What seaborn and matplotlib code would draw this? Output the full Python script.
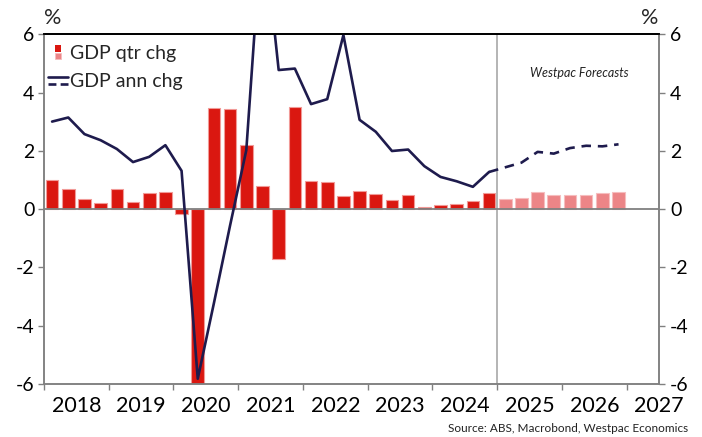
import matplotlib
matplotlib.use("Agg")
import matplotlib.pyplot as plt
import numpy as np
import pandas as pd
import seaborn as sns
from matplotlib.legend_handler import HandlerBase
from matplotlib.patches import Rectangle
from matplotlib.lines import Line2D

# ---- data -------------------------------------------------------------
quarters = pd.period_range("2018Q1", "2026Q4", freq="Q")
n_actual = 28  # 2018Q1 .. 2024Q4 are published, the rest are forecasts

qtr_chg = [1.02, 0.71, 0.35, 0.22, 0.70, 0.26, 0.55, 0.60,
           -0.17, -6.8, 3.48, 3.43, 2.19, 0.79, -1.72, 3.52,
           0.97, 0.95, 0.46, 0.64, 0.52, 0.31, 0.50, 0.07,
           0.14, 0.17, 0.30, 0.56,
           0.36, 0.39, 0.58, 0.50, 0.48, 0.48, 0.56, 0.58]

ann_chg = [3.01, 3.15, 2.58, 2.37, 2.07, 1.62, 1.80, 2.20,
           1.32, -5.82, -3.22, -0.55, 2.03, 10.0, 4.78, 4.83,
           3.61, 3.78, 5.98, 3.07, 2.66, 2.00, 2.05, 1.48,
           1.11, 0.96, 0.77, 1.28,
           1.44, 1.60, 1.97, 1.91, 2.10, 2.18, 2.16, 2.23]

years = list(range(2018, 2028))
y_ticks = [-6, -4, -2, 0, 2, 4, 6]
y_labels = ["-6", "-4", "-2", "0", "2", "4", "6"]

# ---- styling ----------------------------------------------------------
sns.set_theme(style="ticks")
plt.rcParams["font.family"] = ["Lato", "DejaVu Sans"]

RED = "#DA1710"
RED_EDGE = "#F19A97"
PINK = "#EC8587"
PINK_EDGE = "#F6BDBE"
NAVY = "#1E1B4D"
SPINE = "#808080"

xpos = quarters.year + (quarters.quarter - 0.5) / 4.0
df = pd.DataFrame({"x": xpos, "qtr": qtr_chg, "ann": ann_chg})
act = df.iloc[:n_actual]
fct = df.iloc[n_actual:]
fct_line = df.iloc[n_actual - 1:]

fig = plt.figure(figsize=(7.02, 4.37), dpi=100)
ax = fig.add_axes([44 / 702, 1 - 384 / 437, (659 - 44) / 702, (384 - 34.5) / 437])

# quarterly change bars
sns.barplot(data=act, x="x", y="qtr", native_scale=True, width=0.78,
            color=RED, saturation=1, edgecolor=RED_EDGE, linewidth=0.8,
            errorbar=None, ax=ax)
sns.barplot(data=fct, x="x", y="qtr", native_scale=True, width=0.78,
            color=PINK, saturation=1, edgecolor=PINK_EDGE, linewidth=0.8,
            errorbar=None, ax=ax)

# forecast divider and zero line
ax.axvline(2025.0, color="#AFAFAF", lw=1.3, zorder=1)
ax.axhline(0, color=SPINE, lw=1.3, zorder=3)

# annual change line
sns.lineplot(data=act, x="x", y="ann", color=NAVY, lw=1.9, ax=ax, zorder=4)
sns.lineplot(data=fct_line, x="x", y="ann", color=NAVY, lw=1.9, ax=ax, zorder=4,
             linestyle=(0, (3.6, 2.6)))

ax.set_xlim(2018, 2027.5)
ax.set_ylim(-6, 6)
ax.set_xlabel("")
ax.set_ylabel("")

ax.set_xticks(years)
ax.set_xticklabels([""] * len(years))
ax.set_xticks([y + 0.5 for y in years], minor=True)
ax.set_xticklabels([str(y) for y in years], minor=True, fontsize=15.5)
ax.tick_params(axis="x", which="major", length=4, width=1, color=SPINE, direction="out")
ax.tick_params(axis="x", which="minor", length=0, pad=9, colors="black")

ax.set_yticks(y_ticks)
ax.set_yticklabels(y_labels, fontsize=14)
ax.tick_params(axis="y", length=4, width=1, color=SPINE, pad=3, labelcolor="black")

for side in ("left", "right", "bottom"):
    ax.spines[side].set_color(SPINE)
    ax.spines[side].set_linewidth(1.1)
ax.spines["top"].set_visible(True)
ax.spines["top"].set_color("black")
ax.spines["top"].set_linewidth(1.3)
ax.spines["right"].set_visible(True)

ax2 = ax.twinx()
ax2.set_ylim(-6, 6)
ax2.set_yticks(y_ticks)
ax2.set_yticklabels(y_labels, fontsize=14)
ax2.tick_params(axis="y", length=4, width=1, color=SPINE, pad=4, labelcolor="black")
for side in ("left", "right", "bottom"):
    ax2.spines[side].set_color(SPINE)
    ax2.spines[side].set_linewidth(1.1)
ax2.spines["top"].set_color("black")
ax2.spines["top"].set_linewidth(1.3)


# ---- legend keys --------------------------------------------------------
class BarKey(HandlerBase):
    def create_artists(self, legend, orig_handle, xdescent, ydescent,
                       width, height, fontsize, trans):
        s = height * 0.46
        x0 = -xdescent + width / 2 - s * 0.45
        y0 = -ydescent
        top = Rectangle((x0, y0 + height - s), s * 0.9, s, facecolor=RED,
                        edgecolor="none", transform=trans)
        bot = Rectangle((x0, y0), s * 0.9, s, facecolor=PINK,
                        edgecolor=PINK_EDGE, lw=0.6, transform=trans)
        return [top, bot]


class LineKey(HandlerBase):
    def create_artists(self, legend, orig_handle, xdescent, ydescent,
                       width, height, fontsize, trans):
        x0 = -xdescent
        y0 = -ydescent
        solid = Line2D([x0, x0 + width], [y0 + height * 0.72] * 2, color=NAVY,
                       lw=1.9, transform=trans)
        dashed = Line2D([x0, x0 + width], [y0 + height * 0.22] * 2, color=NAVY,
                        lw=1.9, linestyle=(0, (3.0, 1.6)), transform=trans)
        return [solid, dashed]


bar_handle = Rectangle((0, 0), 1, 1)
line_handle = Line2D([], [])
ax2.legend([bar_handle, line_handle], ["GDP qtr chg", "GDP ann chg"],
           handler_map={Rectangle: BarKey(), Line2D: LineKey()},
           loc="upper left", bbox_to_anchor=(48 / 702, 1 - 45 / 437),
           bbox_transform=fig.transFigure, frameon=False, fontsize=14,
           handlelength=1.05, handleheight=0.75, handletextpad=0.1,
           labelspacing=0.55, borderpad=0, borderaxespad=0)

# ---- annotations ---------------------------------------------------------
ax.text(2026.27, 4.67, "Westpac Forecasts", fontsize=9, style="italic",
        ha="center", va="center", color="#222222")
fig.text(53 / 702, 1 - 18 / 437, "%", fontsize=15.5, ha="center", va="center")
fig.text(650 / 702, 1 - 18 / 437, "%", fontsize=15.5, ha="center", va="center")
fig.text(688 / 702, 1 - 428 / 437, "Source: ABS, Macrobond, Westpac Economics",
         fontsize=8.5, ha="right", va="center", color="#222222")

fig.savefig("out.png", dpi=100)
